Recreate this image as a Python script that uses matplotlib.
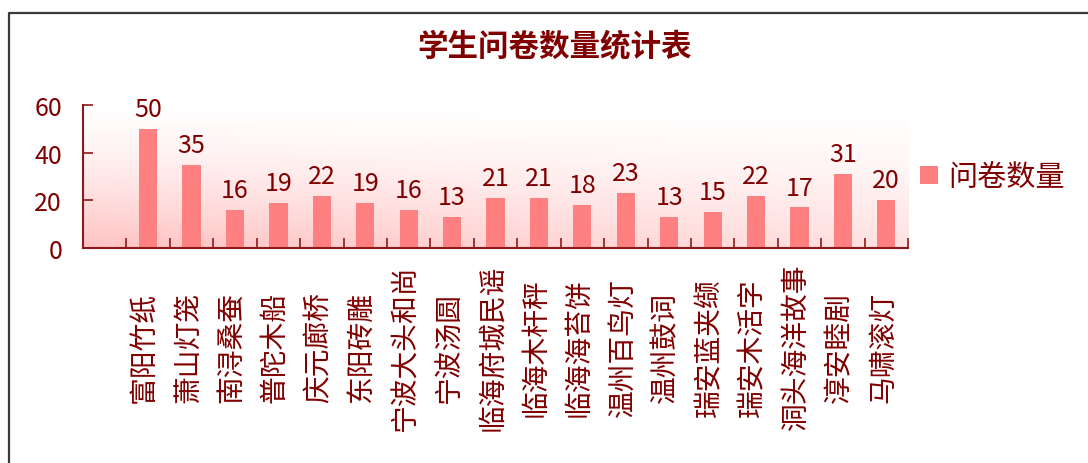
"""Student questionnaire count bar chart."""

import matplotlib
import numpy as np

matplotlib.use("Agg")
from matplotlib import pyplot as plt
from matplotlib.lines import Line2D
from matplotlib.transforms import blended_transform_factory

plt.rcParams["font.family"] = ["Noto Sans CJK SC", "DejaVu Sans"]

title = "学生问卷数量统计表"
series_name = "问卷数量"
categories = [
    "富阳竹纸", "萧山灯笼", "南浔桑蚕", "普陀木船", "庆元廊桥", "东阳砖雕",
    "宁波大头和尚", "宁波汤圆", "临海府城民谣", "临海木杆秤", "临海海苔饼",
    "温州百鸟灯", "温州鼓词", "瑞安蓝夹缬", "瑞安木活字", "洞头海洋故事",
    "淳安睦剧", "马啸滚灯",
]
counts = [50, 35, 16, 19, 22, 19, 16, 13, 21, 21, 18, 23, 13, 15, 22, 17, 31, 20]
y_ticks = [0, 20, 40, 60]

DARK_RED = "#800000"
AXIS_RED = "#8b1a1a"
BAR = "#ff8080"

fig = plt.figure(figsize=(10.88, 4.64), dpi=100)
fig.patch.set_facecolor("white")
ax = fig.add_axes([0.0763, 0.4634, 0.7583, 0.3082])

n = len(categories)
x = np.arange(n)
ax.set_xlim(-1.5, n - 0.5)
ax.set_ylim(0, 60)

# soft pink wash, strongest at the lower left
gy, gx = np.mgrid[0:1:200j, 0:1:400j]
strength = np.clip((1 - gy) ** 1.4 * (1 - 0.5 * gx), 0, 1)
pink = np.array([1.0, 0.76, 0.76])
img = 1 - strength[..., None] * (1 - pink)
ax.imshow(img, extent=(-1.5, n - 0.5, 0, 60), aspect="auto", origin="lower",
          zorder=0, interpolation="bilinear")

ax.bar(x, counts, width=0.42, color=BAR, zorder=2, label=series_name)
for xi, v in zip(x, counts):
    ax.annotate(str(v), (xi, v), xytext=(0, 5), textcoords="offset points",
                ha="center", va="bottom", fontsize=18, color=DARK_RED)

for side in ("top", "right"):
    ax.spines[side].set_visible(False)
for side in ("left", "bottom"):
    ax.spines[side].set_color(AXIS_RED)
    ax.spines[side].set_linewidth(1.5)

ax.set_yticks(y_ticks)
ax.tick_params(axis="y", direction="in", length=7, width=1.2, color=AXIS_RED,
               labelsize=18, labelcolor=DARK_RED, pad=15)
ax.set_xticks(np.arange(-0.5, n, 1.0))
ax.set_xticklabels([])
ax.tick_params(axis="x", direction="in", length=7, width=1.2, color=AXIS_RED)

label_tf = blended_transform_factory(ax.transData, fig.transFigure)
for xi, name in zip(x, categories):
    ax.text(xi - 0.08, 0.25, name, rotation=90, ha="center", va="center",
            fontsize=20, color=DARK_RED, transform=label_tf)

fig.text(0.51, 0.90, title, ha="center", va="center", fontsize=22,
         fontweight="bold", color=DARK_RED)

leg = ax.legend(loc="center left", bbox_to_anchor=(0.846, 0.616),
                bbox_transform=fig.transFigure, frameon=False, fontsize=21,
                handlelength=0.6, handleheight=0.6, handletextpad=0.35,
                borderpad=0, borderaxespad=0)
for t in leg.get_texts():
    t.set_color(DARK_RED)

# outer frame: left and top edges only are visible
fw, fh = 1088, 464
fig.add_artist(Line2D([9 / fw, 9 / fw, 1.0], [0.0, 1 - 14 / fh, 1 - 14 / fh],
                      transform=fig.transFigure, color="#3a3a3a", lw=1.6))

fig.savefig("out.png", dpi=100)
plt.close(fig)
